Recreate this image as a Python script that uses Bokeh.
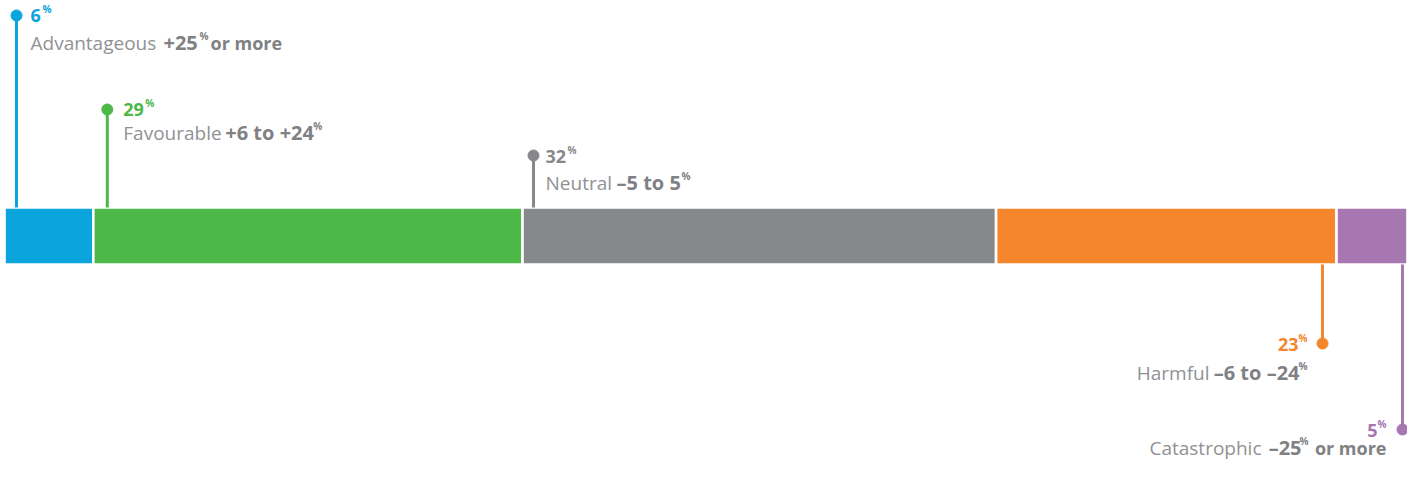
from bokeh.plotting import figure
from bokeh.models import Range1d, ColumnDataSource
from bokeh.core.properties import value
from bokeh.embed import file_html
from bokeh.resources import INLINE

# ---- data ----
categories = ["Advantageous", "Favourable", "Neutral", "Harmful", "Catastrophic"]
shares = [6, 29, 32, 23, 5]
share_labels = ["6", "29", "32", "23", "5"]
range_main = ["+25", "+6 to +24", "\u20135 to 5", "\u20136 to \u201324", "\u201325"]
range_tail = ["or more", "", "", "", "or more"]
colors = ["#0ba5de", "#4cb848", "#87888c", "#f5862b", "#a777b1"]

# ---- layout / style ----
W, H = 1407, 461
total = sum(shares)
k = 1406.0 / total            # px per share unit
X0 = 4                        # px left of bar start
FONT = value("Open Sans")
REG_COL = "#909194"
BOLD_COL = "#808184"
TEXT_DY = 6                   # renderer places alphabetic baseline slightly low

p = figure(width=W, height=H, output_backend="svg", toolbar_location=None,
           x_range=Range1d(-X0 / k, (W - X0) / k), y_range=Range1d(H, 0),
           min_border=0, outline_line_color=None)
p.axis.visible = False
p.grid.visible = False
p.background_fill_color = "white"
p.border_fill_color = "white"

lefts, rights = [], []
acc = 0
for s in shares:
    lefts.append(acc)
    acc += s
    rights.append(acc)

src = ColumnDataSource(dict(left=lefts, right=rights, color=colors))
p.hbar(y=235.5, height=57, left="left", right="right", fill_color="color",
       line_color="white", line_width=2.6, source=src)

# label placement
side = [1, 1, 1, -1, -1]                 # above / below the bar
lead_px = [12, 14, 11, -14, -8]          # leader offset from segment edge (px)
dot_y = [15, 109, 155, 343, 429]
base1 = [21, 115, 162, 350, 436]
base2 = [48, 138, 188, 378, 453]
BAR_TOP, BAR_BOT = 207, 264

def piece(x, y, txt, dx, size, color, bold, align="left"):
    p.text(x=[x], y=[y - TEXT_DY], text=[txt], x_offset=dx, text_font=FONT,
           text_font_size=size, text_color=color,
           text_font_style="bold" if bold else "normal",
           text_align=align, text_baseline="alphabetic")

def sup(lx, b, dx, col, align="left"):
    piece(lx, b - 7, "%", dx, "10px", col, True, align)

lx_all = []
for i in range(len(shares)):
    if side[i] > 0:
        lx = lefts[i] + lead_px[i] / k
        y0, y1 = dot_y[i], BAR_TOP
    else:
        lx = rights[i] + lead_px[i] / k
        y0, y1 = BAR_BOT, dot_y[i]
    lx_all.append(lx)
    p.segment(x0=[lx], y0=[y0], x1=[lx], y1=[y1], line_color=colors[i], line_width=3)
    p.scatter(x=[lx], y=[dot_y[i]], size=11, color=colors[i])

NUM = "18px"
REG = "19px"
BLD = "20px"
TAIL = "18px"

# Advantageous
i = 0; lx = lx_all[i]
piece(lx, base1[i], share_labels[i], 14, NUM, colors[i], True)
sup(lx, base1[i], 26, colors[i])
piece(lx, base2[i], categories[i], 14, REG, REG_COL, False)
piece(lx, base2[i], range_main[i], 147, BLD, BOLD_COL, True)
sup(lx, base2[i], 183, BOLD_COL)
piece(lx, base2[i], range_tail[i], 194, TAIL, BOLD_COL, True)

# Favourable
i = 1; lx = lx_all[i]
piece(lx, base1[i], share_labels[i], 16, NUM, colors[i], True)
sup(lx, base1[i], 38, colors[i])
piece(lx, base2[i], categories[i], 16, REG, REG_COL, False)
piece(lx, base2[i], range_main[i], 118, BLD, BOLD_COL, True)
sup(lx, base2[i], 206, BOLD_COL)

# Neutral
i = 2; lx = lx_all[i]
piece(lx, base1[i], share_labels[i], 12, NUM, colors[i], True)
sup(lx, base1[i], 34, colors[i])
piece(lx, base2[i], categories[i], 12, REG, REG_COL, False)
piece(lx, base2[i], range_main[i], 83, BLD, BOLD_COL, True)
sup(lx, base2[i], 148, BOLD_COL)

# Harmful (right aligned)
i = 3; lx = lx_all[i]
sup(lx, base1[i], -15, colors[i], "right")
piece(lx, base1[i], share_labels[i], -24, NUM, colors[i], True, "right")
sup(lx, base2[i], -15, BOLD_COL, "right")
piece(lx, base2[i], range_main[i], -23, BLD, BOLD_COL, True, "right")
piece(lx, base2[i], categories[i], -113, REG, REG_COL, False, "right")

# Catastrophic (right aligned)
i = 4; lx = lx_all[i]
sup(lx, base1[i], -16, colors[i], "right")
piece(lx, base1[i], share_labels[i], -25, NUM, colors[i], True, "right")
piece(lx, base2[i], range_tail[i], -16, TAIL, BOLD_COL, True, "right")
sup(lx, base2[i], -94, BOLD_COL, "right")
piece(lx, base2[i], range_main[i], -101, BLD, BOLD_COL, True, "right")
piece(lx, base2[i], categories[i], -141, REG, REG_COL, False, "right")

open("out.html", "w").write(file_html(p, INLINE))
